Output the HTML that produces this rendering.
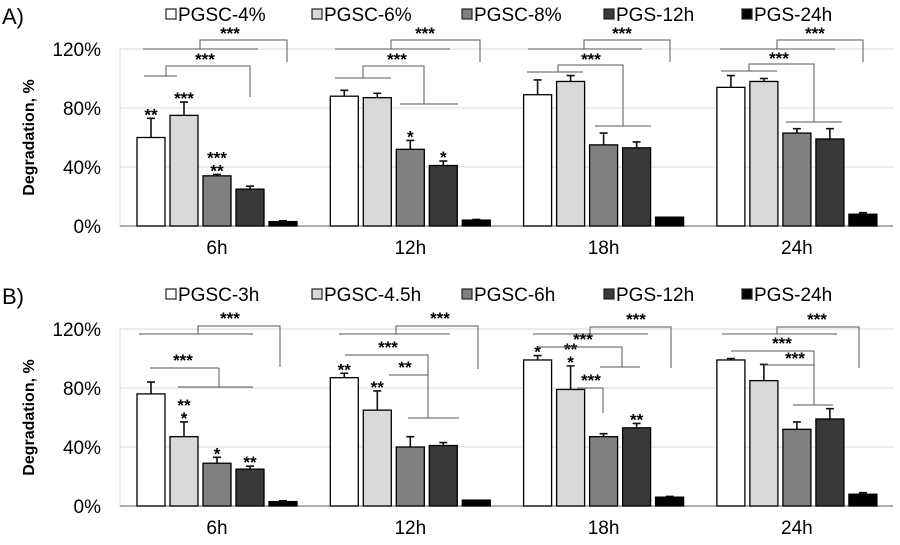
<!DOCTYPE html>
<html><head><meta charset="utf-8"><style>
body{margin:0;background:#fff;width:900px;height:545px;overflow:hidden}
svg{display:block;font-family:"Liberation Sans",Arial,sans-serif}
</style></head><body>
<svg id="chart" width="900" height="545" viewBox="0 0 900 545" xmlns="http://www.w3.org/2000/svg"></svg>
<script>
const categories = ["6h","12h","18h","24h"];
const seriesA = ["PGSC-4%","PGSC-6%","PGSC-8%","PGS-12h","PGS-24h"];
const seriesB = ["PGSC-3h","PGSC-4.5h","PGSC-6h","PGS-12h","PGS-24h"];
const valuesA = [[60,88,89,94],[75,87,98,98],[34,52,55,63],[25,41,53,59],[3,4,6,8]];
const errorsA = [[13,4,10,8],[9,3,4,2],[1,6,8,3],[2,3,4,7],[0.5,0.5,0,1]];
const valuesB = [[76,87,99,99],[47,65,79,85],[29,40,47,52],[25,41,53,59],[3,4,6,8]];
const errorsB = [[8,3,3,1],[10,13,16,11],[4,7,2,5],[2,2,3,7],[0.5,0,0.5,1]];
const starsA = [["**","","",""],["***","","",""],["***\n**","*","",""],["","*","",""],["","","",""]];
const starsB = [["","**","*",""],["**\n*","**","**\n*",""],["*","","",""],["**","","**",""],["","","",""]];
const yTicks = [0,40,80,120];
const fills = ["#ffffff","#d9d9d9","#808080","#3b3838","#000000"];

const NS="http://www.w3.org/2000/svg";
const svg=document.getElementById('chart');
function el(tag,attrs,parent){const e=document.createElementNS(NS,tag);for(const k in attrs)e.setAttribute(k,attrs[k]);(parent||svg).appendChild(e);return e;}

function panel(off,letter,series,values,errors,stars,brackets){
  const g=el('g',{});
  
  
  const y0=226+off, yTop=49+off, x0=120, x1=893;
  const yS=v=>y0-(v/120)*(y0-yTop);
  const xG=i=>137+i*193.3;
  const t=el('text',{x:2,y:24+off,'font-size':22,fill:'#000'},g);t.textContent=letter+')';
  
  yTicks.forEach(v=>{
    if(v>0){const l=el('line',{x1:x0,x2:x1,y1:yS(v),y2:yS(v),stroke:'#d9d9d9','stroke-width':1},g);
      }
    const tt=el('text',{x:101,y:yS(v)+7,'font-size':19,'text-anchor':'end'},g);tt.textContent=v+'%';
    
  });
  const ya=el('line',{x1:x0,x2:x0,y1:yTop,y2:y0,stroke:'#d9d9d9'},g);
  
  const xa=el('line',{x1:x0,x2:x1,y1:y0,y2:y0,stroke:'#7f7f7f','stroke-width':1.2},g);
  
  const yt=el('text',{x:0,y:0,'font-size':16,'font-weight':'bold','text-anchor':'middle',transform:`translate(34,${(y0+yTop)/2}) rotate(-90)`},g);
  yt.textContent='Degradation, %';
  categories.forEach((c,i)=>{
    const ct=el('text',{x:xG(i)+80,y:y0+28,'font-size':19,'text-anchor':'middle'},g);ct.textContent=c;
    
  });
  const lx=[166,312,462,604,742];
  series.forEach((s,k)=>{
    const r=el('rect',{x:lx[k],y:9+off,width:10,height:10,fill:fills[k],stroke:'#222','stroke-width':1.2},g);
    
    const lt=el('text',{x:lx[k]+12,y:21+off,'font-size':19},g);lt.textContent=s;
    
  });
  values.forEach((ser,k)=>{
    ser.forEach((v,i)=>{
      const x=xG(i)+k*33, w=28;
      const e=errors[k][i];
      if(e>0){
        const ep=el('path',{d:`M${x+w/2},${yS(v)} V${yS(v+e)} M${x+w/2-4},${yS(v+e)} H${x+w/2+4}`,stroke:'#111','stroke-width':1.6,fill:'none'},g);
        
      }
      const b=el('rect',{x:x,y:yS(v),width:w,height:y0-yS(v),fill:fills[k],stroke:'#000','stroke-width':1.3},g);
      
      const st=stars[k][i];
      if(st){
        const lines=st.split('\n');
        lines.forEach((ln,j)=>{
          const sy=yS(v+e)-5-(lines.length-1-j)*13;
          const s=el('text',{x:x+w/2,y:sy+7,'font-size':17,'font-weight':'bold','text-anchor':'middle'},g);s.textContent=ln;
          
        });
      }
    });
  });
  brackets.lines.forEach(p=>{
    const pl=el('polyline',{points:p.map(q=>q[0]+','+(q[1]+off)).join(' '),fill:'none',stroke:'#555','stroke-width':1},g);
    
  });
  brackets.labels.forEach(p=>{
    const s=el('text',{x:p[0],y:p[1]+off+9,'font-size':17,'font-weight':'bold','text-anchor':'middle'},g);s.textContent=p[2];
    
  });
}
const bracketsA={lines:[
 [[143,49],[258,49]],[[200,49],[200,40],[287,40],[287,62]],
 [[144,76],[177,76]],[[166,76],[166,66],[250,66],[250,97]],
 [[335,49],[450,49]],[[391,49],[391,40],[480,40],[480,62]],
 [[335,78],[391,78]],[[363,78],[363,66],[424,66],[424,104]],[[400,104],[458,104]],
 [[528,49],[642,49]],[[584,49],[584,40],[670,40],[670,62]],
 [[527,72],[583,72]],[[558,72],[558,65],[623,65],[623,126]],[[595,126],[651,126]],
 [[720,49],[835,49]],[[777,49],[777,40],[863,40],[863,62]],
 [[721,71],[777,71]],[[749,71],[749,64],[814,64],[814,122]],[[786,122],[842,122]]],
 labels:[[230,30,'***'],[205,56,'***'],[425,30,'***'],[397,56,'***'],[622,30,'***'],[591,56,'***'],[815,30,'***'],[779,55,'***']]};
const bracketsB={lines:[
 [[139,54],[253,54]],[[198,54],[198,46],[280,46],[280,87]],
 [[150,88],[219,88]],[[219,88],[219,107]],[[178,107],[253,107]],
 [[339,54],[450,54]],[[396,54],[396,46],[478,46],[478,89]],
 [[345,75],[428,75],[428,138]],[[389,95],[428,95]],[[408,138],[459,138]],
 [[533,54],[648,54]],[[590,54],[590,47],[671,47],[671,88]],
 [[539,67],[622,67],[622,87]],[[600,87],[640,87]],
 [[577,108],[603,108],[603,133]],
 [[722,54],[837,54]],[[777,54],[777,47],[859,47],[859,88]],
 [[731,71],[814,71],[814,125]],[[764,85],[814,85]],[[793,125],[833,125]]],
 labels:[[230,35,'***'],[183,77,'***'],[440,35,'***'],[388,64,'***'],[405,84,'**'],[636,36,'***'],[583,56,'***'],[591,97,'***'],[817,36,'***'],[782,60,'***'],[795,75,'***']]};
panel(0,'A',seriesA,valuesA,errorsA,starsA,bracketsA);
panel(280,'B',seriesB,valuesB,errorsB,starsB,bracketsB);
</script>
</body></html>
